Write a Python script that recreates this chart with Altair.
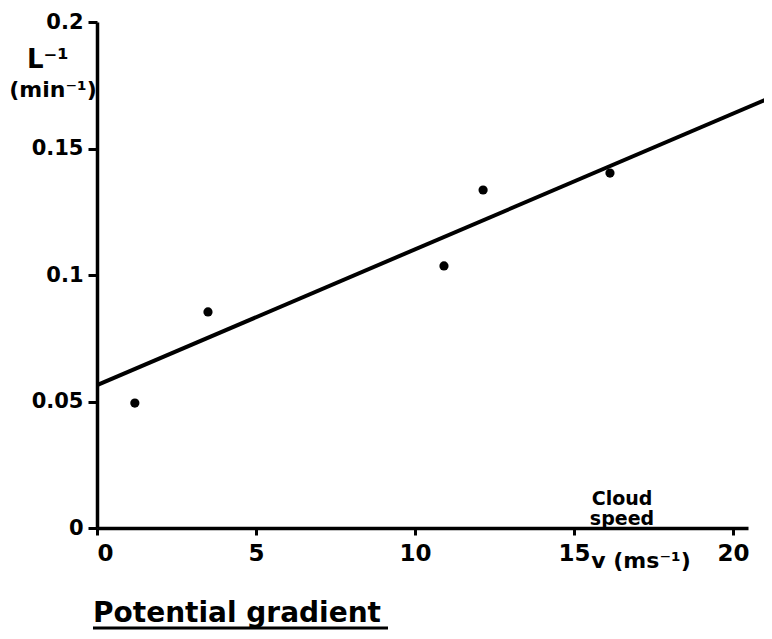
import altair as alt
import pandas as pd

# Data
speed = [1.19, 3.49, 10.91, 12.14, 16.13]
inv_L = [0.0494, 0.0854, 0.1036, 0.1336, 0.1403]

fit_x = [0.0, 21.16]
fit_y = [0.0565, 0.170]

x_ticks = [0, 5, 10, 15, 20]
y_ticks = [0, 0.05, 0.1, 0.15, 0.2]

pts = pd.DataFrame({"v": speed, "L": inv_L})
fit = pd.DataFrame({"v": fit_x, "L": fit_y})

FONT = "DejaVu Sans"

xs = alt.Scale(domain=[0, 20.47], nice=False, zero=False)
ys = alt.Scale(domain=[0, 0.2], nice=False, zero=False)

xax = alt.Axis(values=x_ticks, title=None, grid=False, tickSize=7, labelPadding=7,
               format="~g", labelFontSize=23)
yax = alt.Axis(values=y_ticks, title=None, grid=False, tickSize=9, labelPadding=5,
               format="~g", labelFontSize=21)

points = alt.Chart(pts).mark_circle(size=85, color="black", opacity=1).encode(
    x=alt.X("v:Q", scale=xs, axis=xax),
    y=alt.Y("L:Q", scale=ys, axis=yax),
)

line = alt.Chart(fit).mark_line(color="black", strokeWidth=4, clip=False).encode(
    x=alt.X("v:Q", scale=xs),
    y=alt.Y("L:Q", scale=ys),
)

def label(txt, x, y, size, align="center"):
    return alt.Chart(pd.DataFrame({"t": [txt]})).mark_text(
        font=FONT, fontWeight="bold", fontSize=size, align=align,
        baseline="alphabetic", color="black", clip=False
    ).encode(x=alt.value(x), y=alt.value(y), text="t:N")

annotations = [
    label("L⁻¹", -70, 46, 26, "left"),
    label("(min⁻¹)", -44, 75, 22),
    label("Cloud", 525, 483, 19),
    label("speed", 525, 503, 19),
    label("v (ms⁻¹)", 544, 546, 22),
    label("Potential gradient", -4, 600, 28, "left"),
]

underline = alt.Chart(pd.DataFrame({"a": [0]})).mark_rule(
    color="black", strokeWidth=3, clip=False
).encode(x=alt.value(-4), x2=alt.value(291), y=alt.value(606))

chart = alt.layer(line, points, *annotations, underline).properties(
    width=651, height=506,
    autosize=alt.AutoSizeParams(type="none"),
    padding={"left": 89, "top": 14, "right": 16, "bottom": 103},
).configure_view(stroke=None).configure_axis(
    domainColor="black", domainWidth=3.5, tickColor="black", tickWidth=3,
    labelFont=FONT, labelFontWeight="bold", labelColor="black",
)

chart.save("out.html", embed_options={"renderer": "svg", "actions": False})
